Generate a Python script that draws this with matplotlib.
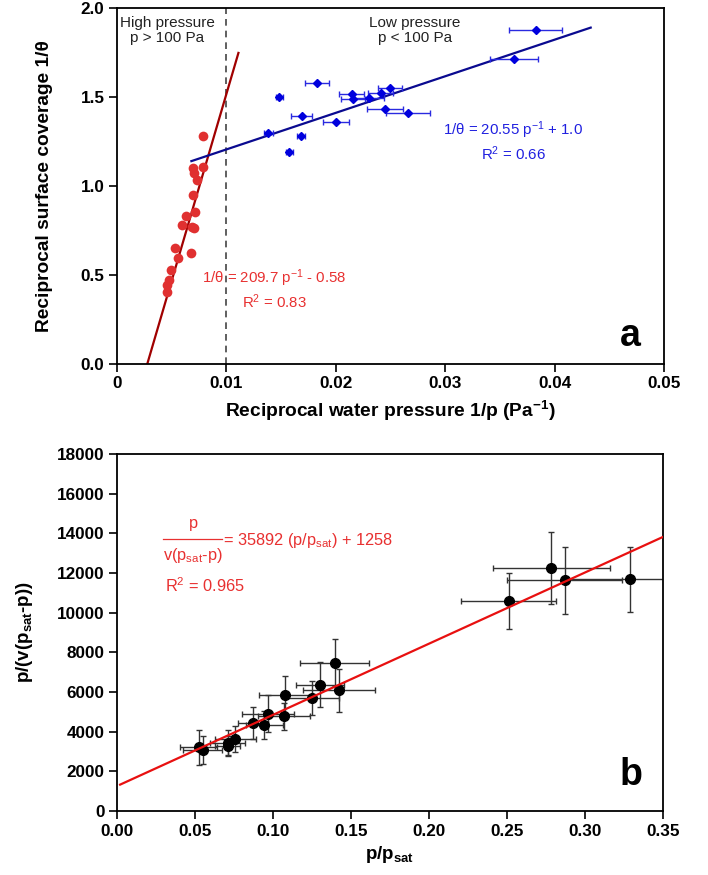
import numpy as np
import matplotlib
matplotlib.use('Agg')
import matplotlib.pyplot as plt

plt.rcParams['font.family'] = ['Liberation Sans', 'DejaVu Sans']
plt.rcParams['mathtext.fontset'] = 'custom'
plt.rcParams['mathtext.rm'] = 'Liberation Sans'
plt.rcParams['mathtext.it'] = 'Liberation Sans'
plt.rcParams['mathtext.bf'] = 'Liberation Sans:bold'

# panel a: high pressure (red) points
hp_x = [0.00789, 0.00789, 0.00698, 0.00707, 0.00734, 0.00698, 0.00713, 0.00631,
        0.00591, 0.00683, 0.00707, 0.0053, 0.00674, 0.0056, 0.00491, 0.00478,
        0.00454, 0.00454]
hp_y = [1.281, 1.108, 1.10, 1.075, 1.034, 0.949, 0.856, 0.831,
        0.781, 0.771, 0.766, 0.650, 0.622, 0.594, 0.528, 0.472,
        0.444, 0.406]

# panel a: low pressure (blue) points with x errors
lp_x = [0.0183, 0.01484, 0.02145, 0.0216, 0.0230, 0.0241, 0.02495, 0.01688,
        0.02002, 0.01383, 0.01682, 0.01575, 0.0245, 0.02663, 0.03827, 0.03632]
lp_y = [1.577, 1.502, 1.515, 1.487, 1.493, 1.524, 1.549, 1.393,
        1.358, 1.296, 1.281, 1.189, 1.431, 1.408, 1.876, 1.713]
lp_xerr = [0.00107, 0.0003, 0.00113, 0.0011, 0.00137, 0.00114, 0.0011, 0.00093,
           0.0012, 0.0004, 0.0004, 0.0003, 0.00165, 0.002, 0.0024, 0.0022]

hp_slope, hp_icpt = 209.7, -0.58
lp_slope, lp_icpt = 20.55, 1.0

# panel b
b_x = [0.0523, 0.0551, 0.0709, 0.0709, 0.0758, 0.0870, 0.0945, 0.0966, 0.108,
       0.1073, 0.1251, 0.130, 0.1395, 0.1425, 0.2511, 0.2783, 0.2869, 0.3286]
b_y = [3220, 3084, 3453, 3286, 3625, 4434, 4348, 4904, 5865,
       4768, 5698, 6371, 7468, 6083, 10583, 12236, 11646, 11680]
b_xerr = [0.0118, 0.0125, 0.011, 0.008, 0.013, 0.0096, 0.0118, 0.0167, 0.0171,
          0.0167, 0.0171, 0.0155, 0.0219, 0.023, 0.0306, 0.0375, 0.037, 0.04]
b_yerr = [876, 708, 620, 500, 674, 790, 700, 930, 945,
          674, 842, 1150, 1180, 1080, 1430, 1810, 1690, 1630]
b_slope, b_icpt = 35892, 1258

fig = plt.figure(figsize=(7.08, 8.75), dpi=100)
ax1 = fig.add_axes([117 / 708, 1 - 364 / 875, 547 / 708, 356 / 875])
ax2 = fig.add_axes([117 / 708, 1 - 811 / 875, 546 / 708, 357 / 875])

for ax in (ax1, ax2):
    for s in ax.spines.values():
        s.set_linewidth(1.3)
    ax.tick_params(direction='out', length=6, width=1.2, labelsize=12.3, pad=3)

# ---- panel a ----
ax1.axvline(0.01, color='#444444', ls=(0, (4, 3)), lw=1.2)
xl = np.array([(0 - hp_icpt) / hp_slope, 0.0111])
ax1.plot(xl, hp_slope * xl + hp_icpt, color='#a00000', lw=1.6)
xb = np.array([0.0068, 0.0433])
ax1.plot(xb, lp_slope * xb + lp_icpt, color='#0a0a90', lw=1.6)
ax1.plot(hp_x, hp_y, 'o', color='#e03030', ms=7, mec='none')
ax1.errorbar(lp_x, lp_y, xerr=lp_xerr, fmt='D', color='#0000dd', ms=4.5,
             ecolor='#2a2ae0', elinewidth=1, capsize=2.5)

ax1.set_xlim(0, 0.05)
ax1.set_ylim(0, 2.0)
ax1.set_xticks([0, 0.01, 0.02, 0.03, 0.04, 0.05])
ax1.set_xticklabels(['0', '0.01', '0.02', '0.03', '0.04', '0.05'], fontweight='bold')
ax1.set_yticks([0, 0.5, 1.0, 1.5, 2.0])
ax1.set_yticklabels(['0.0', '0.5', '1.0', '1.5', '2.0'], fontweight='bold')
ax1.set_xlabel(r'Reciprocal water pressure 1/p (Pa$^{\mathbf{-1}}$)',
               fontsize=13.8, fontweight='bold', labelpad=5)
ax1.set_ylabel('Reciprocal surface coverage 1/θ', fontsize=13.8,
               fontweight='bold', labelpad=20)

ax1.text(0.00457, 1.876, 'High pressure\np > 100 Pa', ha='center', va='center',
         fontsize=11, color='#222222', linespacing=1.1)
ax1.text(0.0272, 1.876, 'Low pressure\np < 100 Pa', ha='center', va='center',
         fontsize=11, color='#222222', linespacing=1.1)
ax1.text(0.0362, 1.253, '1/θ = 20.55 p$^{-1}$ + 1.0\nR$^2$ = 0.66', ha='center',
         va='center', fontsize=10.8, color='#2020e0', linespacing=1.2)
ax1.text(0.01435, 0.421, '1/θ = 209.7 p$^{-1}$ - 0.58\nR$^2$ = 0.83', ha='center',
         va='center', fontsize=10.8, color='#e83030', linespacing=1.2)
ax1.text(0.0469, 0.16, 'a', fontsize=27, fontweight='bold', ha='center', va='center')

# ---- panel b ----
xr = np.array([0.002, 0.35])
ax2.plot(xr, b_slope * xr + b_icpt, color='#e81010', lw=1.6, zorder=3)
ax2.errorbar(b_x, b_y, xerr=b_xerr, yerr=b_yerr, fmt='o', color='black', ms=7,
             ecolor='#333333', elinewidth=1, capsize=2.5, capthick=1, zorder=2)

ax2.set_xlim(0, 0.35)
ax2.set_ylim(0, 18000)
ax2.set_xticks(np.arange(0, 0.351, 0.05))
ax2.set_xticklabels(['%.2f' % v for v in np.arange(0, 0.351, 0.05)], fontweight='bold')
ax2.set_yticks(np.arange(0, 18001, 2000))
ax2.set_yticklabels(['%d' % v for v in np.arange(0, 18001, 2000)], fontweight='bold')
ax2.set_xlabel(r'p/p$_{\mathbf{sat}}$', fontsize=13.5, fontweight='bold', labelpad=4)
ax2.set_ylabel(r'p/(v(p$_{\mathbf{sat}}$-p))', fontsize=13.5, fontweight='bold',
               labelpad=16)

red = '#e83030'
ax2.text(0.049, 14500, 'p', ha='center', va='center', fontsize=11.8, color=red)
ax2.plot([0.0297, 0.0673], [13700, 13700], color=red, lw=0.9)
ax2.text(0.0485, 12900, 'v(p$_{sat}$-p)', ha='center', va='center', fontsize=11.8,
         color=red)
ax2.text(0.068, 13650, '= 35892 (p/p$_{sat}$) + 1258', ha='left', va='center',
         fontsize=11.8, color=red)
ax2.text(0.0308, 11380, 'R$^2$ = 0.965', ha='left', va='center', fontsize=11.8,
         color=red)
ax2.text(0.3297, 1820, 'b', fontsize=27, fontweight='bold', ha='center', va='center')

fig.savefig('out.png', dpi=100)
